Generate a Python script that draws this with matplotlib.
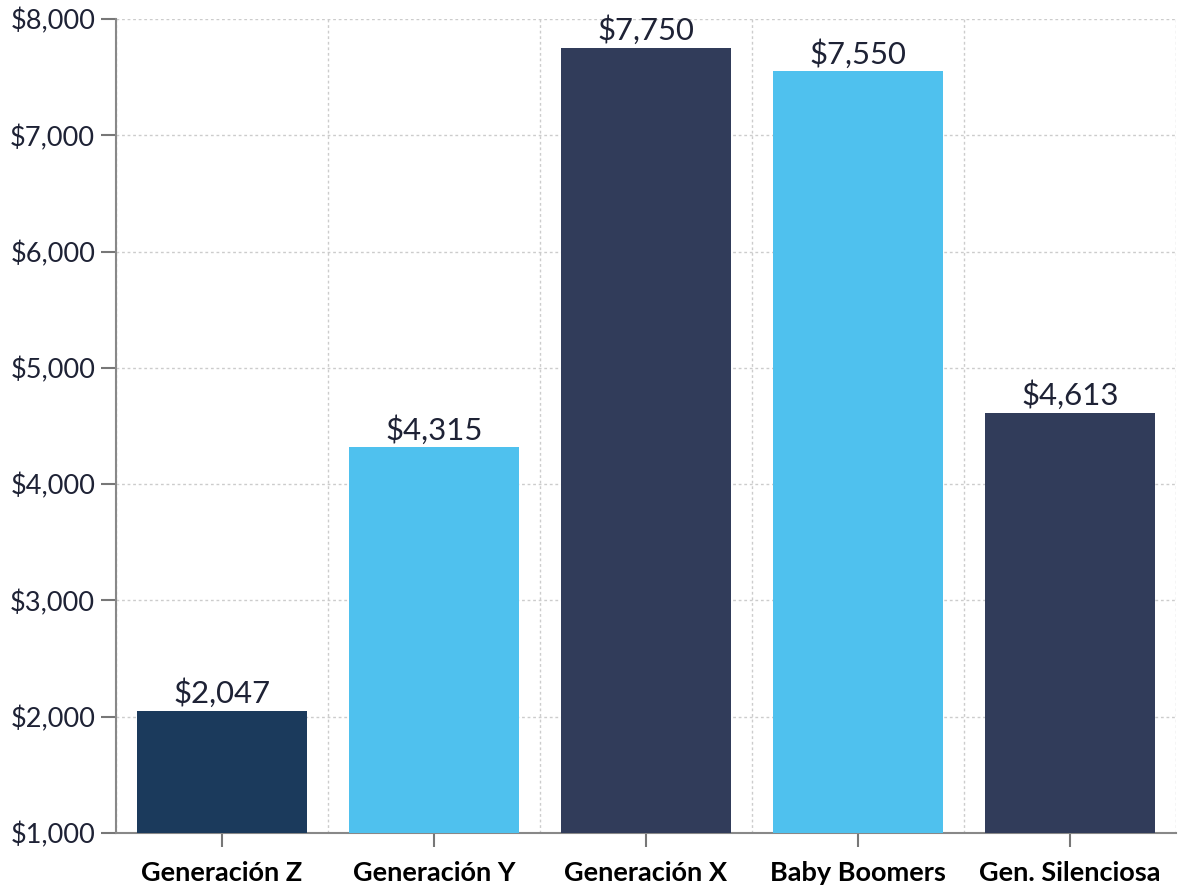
import matplotlib.pyplot as plt
from matplotlib.ticker import FuncFormatter, MultipleLocator
import numpy as np

# Gasto promedio por generación
generaciones = ["Generación Z", "Generación Y", "Generación X", "Baby Boomers", "Gen. Silenciosa"]
gasto = [2047, 4315, 7750, 7550, 4613]
colores = ["#1b3a5c", "#4fc1ee", "#313c5a", "#4fc1ee", "#313c5a"]

fig = plt.figure(figsize=(11.9, 8.86), dpi=100)
ax = fig.add_axes([0.0975, 0.06, 0.8905, 0.9185])

x = np.arange(len(generaciones))
ax.bar(x, [g - 1000 for g in gasto], bottom=1000, width=0.8, color=colores, zorder=3)

for xi, g in zip(x, gasto):
    ax.text(xi, g + 25, f"${g:,}", ha="center", va="bottom",
            fontsize=22.4, family="Lato", color="#1e2235", zorder=4)

ax.set_xlim(-0.5, len(generaciones) - 0.5)
ax.set_ylim(1000, 8000)
ax.yaxis.set_major_locator(MultipleLocator(1000))
ax.yaxis.set_major_formatter(FuncFormatter(lambda v, p: f"${v:,.0f}"))

ax.set_xticks(x)
ax.set_xticklabels(generaciones, fontsize=19.5, fontweight="bold", family="Lato", color="black")
ax.set_xticks(np.arange(len(generaciones) + 1) - 0.5, minor=True)
ax.tick_params(axis="x", which="major", length=10, width=1.5, color="#777777", pad=10)
ax.tick_params(axis="x", which="minor", length=0)
ax.tick_params(axis="y", length=11, width=1.5, color="#777777", pad=4,
               labelsize=19.5, labelcolor="#1e2235")
for lab in ax.get_yticklabels():
    lab.set_family("Lato")

ax.grid(axis="y", which="major", color="#cccccc", linestyle=(0, (2, 2)), linewidth=1, zorder=0)
ax.grid(axis="x", which="minor", color="#cccccc", linestyle=(0, (2, 2)), linewidth=1, zorder=0)
ax.grid(axis="x", which="major", visible=False)

for side in ["top", "right"]:
    ax.spines[side].set_visible(False)
for side in ["left", "bottom"]:
    ax.spines[side].set_color("#888888")
    ax.spines[side].set_linewidth(1.5)

fig.savefig("out.png", dpi=100)
